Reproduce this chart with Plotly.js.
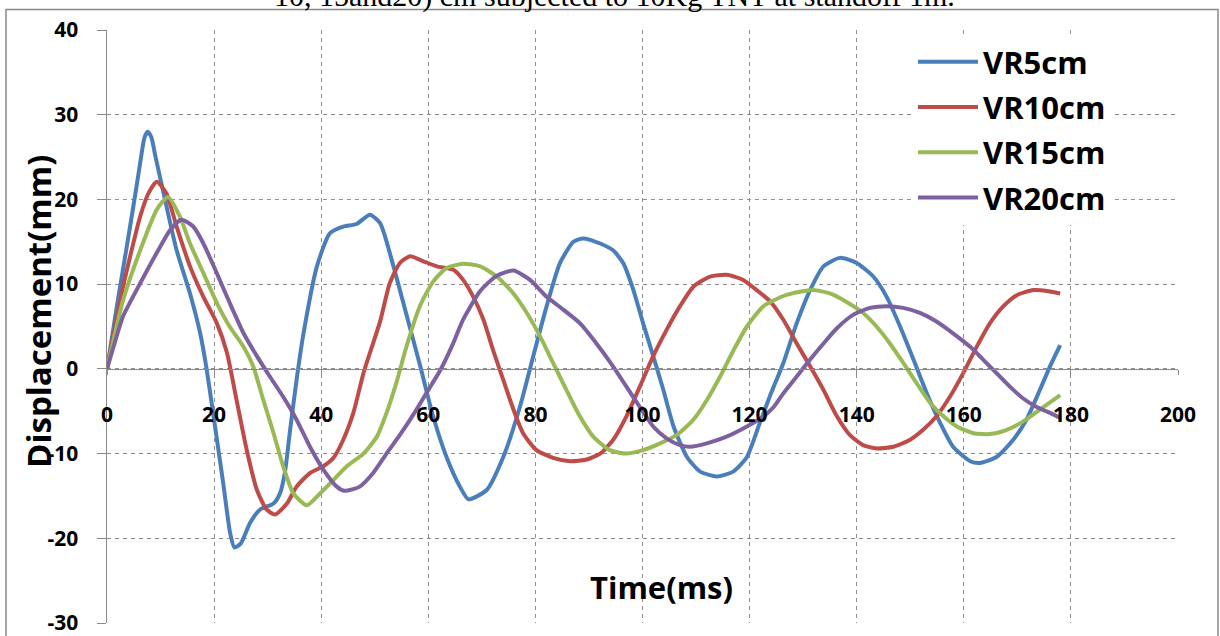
<!DOCTYPE html>
<html>
<head>
<meta charset="utf-8">
<script src="https://cdn.plot.ly/plotly-3.0.1.min.js"></script>
<style>
  html, body { margin: 0; padding: 0; background: #fff; }
  #chart { width: 1220px; height: 636px; }
</style>
</head>
<body>
<div id="chart"></div>
<script>
// Displacement histories (mm) against time (ms) for four VR values
const seriesNames = ["VR5cm", "VR10cm", "VR15cm", "VR20cm"];
const seriesColors = ["#4A7EBB", "#BE4B48", "#98B954", "#7D60A0"];

const t5 = [0,1,2,3,4,5,6,7,7.6,8.3,9,11,13,15.5,17.4,18.6,19.9,21.7,23,23.8,25,26.7,28.6,31.1,32.3,33.2,34.2,35.4,36.7,39.2,41.6,44.1,46.6,49.1,51,53.5,56,58.5,60.9,63.4,65.9,67.5,70.9,74,77.1,79.6,82.1,84.6,87.1,88.9,92.1,94.5,96.4,98.3,100.1,102,103.9,105.8,108.3,110.7,113.9,117,119.5,121.9,123.8,126.3,128.8,131.3,133.8,136.9,140,143.1,145.6,148.1,150.6,153.1,155.6,158,161.2,163,166.1,169.2,171.7,174.2,176.1,178];
const d5 = [0,4,8,11.8,15.6,19.5,23.5,27.3,28,27.3,25.2,19.5,14,8.9,4.2,0,-5.6,-13.5,-19.4,-21.1,-20.6,-18.2,-16.6,-15.9,-14.7,-12.3,-7.2,-1.3,4.2,12.1,16,16.8,17.1,18.2,17.2,12.1,6.2,0.3,-5.6,-10.4,-13.9,-15.4,-14.3,-10.4,-4.5,1.5,7.4,12.5,15,15.4,14.8,14,12.5,9.3,5.4,1.5,-2.5,-6.8,-10.4,-12.1,-12.7,-12.1,-10.4,-6.4,-3.2,0.7,5.4,9.3,12.1,13.1,12.5,10.9,8.5,5,1.1,-2.9,-6.4,-9.2,-10.9,-11.1,-10.4,-8.4,-6,-2.5,0.3,2.8];

const t10 = [0,1.5,3,4.6,6.2,7.8,9.3,11.1,13,15.5,18,20.5,22.4,24.2,26.1,28,29.8,31.4,33.6,35.4,37.9,40.4,42.3,44.1,46,47.9,51,52.8,54.7,56.6,59.1,61.6,64.7,66.5,68.4,70.3,72.1,74,75.9,77.7,80.2,83.3,86.5,89.6,92.1,94.5,97,99.5,102,104.5,107,109.5,112.6,115.7,118.8,121.3,123.8,126.3,128.8,131.3,133.8,136.3,138.7,141.2,143.7,146.8,149.9,152.4,154.9,157.4,159.9,162.4,164.9,167.4,169.9,173,175.5,178];
const d10 = [0,5,9.7,14,18,20.8,22.1,20.7,16.8,12.1,8.5,5.4,1.9,-3.7,-9.6,-14.3,-16.6,-17.2,-15.9,-13.9,-12.3,-11.5,-10.5,-8.4,-5.2,-0.5,5.6,10.1,12.5,13.3,12.7,12.1,11.7,10.5,8.5,5.8,2.2,-1.3,-4.8,-7.6,-9.6,-10.5,-10.9,-10.7,-10,-8.4,-5.6,-2.1,1.5,4.6,7.4,9.7,10.9,11.1,10.5,9.3,8,5.8,3,0.3,-2.5,-5.6,-7.8,-9,-9.4,-9.2,-8.4,-7.2,-5.6,-3.3,-0.5,2.6,5.4,7.4,8.7,9.3,9.2,8.9];

const t15 = [0,1.5,3,6.2,9.3,11.4,13.6,15.5,18,20.5,22.9,25.5,27.3,29.2,31.1,32.9,34.8,37.3,39.8,42.3,44.8,47.9,50.4,52.2,54.1,56,58.5,60.9,63.4,66.5,69.7,72.8,75.9,78.4,80.9,83.3,85.8,88.3,90.8,93.9,97,100.1,103.3,106.4,109.5,112,114.5,117,119.5,122.6,126.3,129.4,131.9,135,138.1,141.2,143.7,146.2,148.7,151.2,153.7,156.2,158.7,161.8,164.9,168,171.1,174.2,178];
const d15 = [0,4.2,8.1,14,18.8,20.3,18,14.8,11.3,7.8,5,2.6,0.3,-3.7,-7.6,-11.5,-14.7,-16.1,-14.7,-13.1,-11.5,-10,-8,-5.2,-1.5,2.8,7.5,10.3,11.9,12.4,12.1,10.9,8.9,6.6,3.8,0.7,-2.5,-5.6,-8,-9.6,-10,-9.6,-8.8,-7.8,-6,-3.7,-0.9,2.2,5,7.4,8.6,9.1,9.3,8.9,7.9,6.6,5,3,0.7,-1.7,-4,-5.6,-6.8,-7.6,-7.7,-7.2,-6.2,-4.8,-3.1];

const t20 = [0,1.5,3,6.2,9.3,11.8,13.9,16.1,18,20.5,22.9,25.5,28,30.4,32.9,35.4,37.9,40.4,42.9,44.4,47.2,49.7,52.2,54.7,57.2,59.7,62.2,64.5,66.5,69.7,72.8,75.9,79,82.1,85.2,88.3,91.4,94.5,97,99.5,102,104.5,107,108.9,112,115.7,119.5,122.6,124.5,126.3,128.8,131.3,133.8,136.3,139.4,142.5,145.6,148.7,151.8,154.9,158,161.2,163.6,166.1,168.6,171.1,173.6,176.1,178];
const d20 = [0,3.2,6.2,10.1,13.7,16.4,17.6,16.8,14.8,11.3,7.8,4.2,1.5,-0.9,-3.3,-6,-9.2,-11.9,-13.9,-14.4,-13.9,-12.3,-10,-7.8,-5.4,-2.8,-0.2,2.8,5.8,9.2,11,11.6,10.5,8.5,7,5.4,3,0.3,-2.1,-4.5,-6.8,-8.2,-9,-9.2,-8.8,-8,-6.8,-5.6,-4.5,-2.9,-0.9,1.1,3,4.8,6.4,7.2,7.4,7.2,6.6,5.6,4.2,2.6,1.1,-0.5,-2.1,-3.5,-4.5,-5.2,-5.8];

const xTicks = [0, 20, 40, 60, 80, 100, 120, 140, 160, 180, 200];
const yTicks = [-30, -20, -10, 0, 10, 20, 30, 40];

const captionText = "10, 15and20) cm subjected to 10Kg TNT at standoff 1m.";
const xTitleText = "Time(ms)";
const yTitleText = "Displacement(mm)";

const times = [t5, t10, t15, t20];
const values = [d5, d10, d15, d20];

const traces = seriesNames.map((name, i) => ({
  type: "scatter",
  mode: "lines",
  name: name,
  x: times[i],
  y: values[i],
  legendgroup: "g" + i,
  line: { color: seriesColors[i], width: 4, shape: "spline", smoothing: 0.6 }
}));

const sans = "'Open Sans', 'DejaVu Sans', sans-serif";
const labelFont = { family: sans, size: 21, color: "#000", weight: "bold" };
const gridGray = "#8f8f8f";
const axisGray = "#8a8a8a";

// plot area: x 107..1178 px, y 30..623 px
const L = 107, R = 1178, T = 30, B = 623;
const px2x = p => (p - L) / (R - L);
const px2y = p => (B - p) / (B - T);

const layout = {
  width: 1220,
  height: 636,
  margin: { l: L, r: 1220 - R, t: T, b: 636 - B, pad: 0 },
  paper_bgcolor: "#fff",
  plot_bgcolor: "#fff",
  showlegend: true,
  xaxis: {
    range: [0, 200],
    tickvals: xTicks,
    ticktext: xTicks.map(String),
    anchor: "free",
    position: 30 / 70,
    showline: true,
    linecolor: axisGray,
    linewidth: 1.5,
    ticks: "outside",
    ticklen: 5,
    tickcolor: axisGray,
    ticklabelstandoff: 21,
    ticklabeloverflow: "allow",
    tickfont: labelFont,
    showgrid: true,
    gridcolor: gridGray,
    gridwidth: 1,
    griddash: "4px,4px",
    zeroline: false,
    fixedrange: true
  },
  yaxis: {
    range: [-30, 40],
    tickvals: yTicks,
    ticktext: yTicks.map(String),
    showline: true,
    linecolor: axisGray,
    linewidth: 1.5,
    ticks: "outside",
    ticklen: 9,
    tickcolor: axisGray,
    ticklabelstandoff: 14,
    ticklabeloverflow: "allow",
    tickfont: labelFont,
    showgrid: true,
    gridcolor: gridGray,
    gridwidth: 1,
    griddash: "4px,4px",
    zeroline: false,
    fixedrange: true
  },
  legend: {
    x: px2x(913),
    y: px2y(35),
    xanchor: "left",
    yanchor: "top",
    bgcolor: "#fff",
    borderwidth: 0,
    itemwidth: 60,
    tracegroupgap: 2,
    font: { family: sans, size: 31, color: "#000", weight: "bold" }
  },
  annotations: [
    {
      text: captionText,
      xref: "paper", yref: "paper",
      x: px2x(614), y: px2y(-4),
      xanchor: "center", yanchor: "middle",
      showarrow: false,
      font: { family: "'Liberation Serif', 'Times New Roman', serif", size: 30, color: "#000" }
    },
    {
      text: xTitleText,
      xref: "paper", yref: "paper",
      x: px2x(661), y: px2y(587),
      xanchor: "center", yanchor: "middle",
      showarrow: false,
      font: { family: sans, size: 31, color: "#000", weight: "bold" }
    },
    {
      text: yTitleText,
      xref: "paper", yref: "paper",
      x: px2x(38), y: px2y(312),
      xanchor: "center", yanchor: "middle",
      textangle: -90,
      showarrow: false,
      font: { family: sans, size: 33, color: "#000", weight: "bold" }
    }
  ],
  shapes: [
    {
      type: "rect",
      xref: "paper", yref: "paper",
      x0: px2x(6), x1: px2x(1218),
      y0: px2y(645), y1: px2y(9.5),
      line: { color: "#8a8a8a", width: 1.5 },
      fillcolor: "rgba(0,0,0,0)",
      layer: "below"
    }
  ]
};

Plotly.newPlot("chart", traces, layout, { staticPlot: true, displayModeBar: false });
</script>
</body>
</html>
